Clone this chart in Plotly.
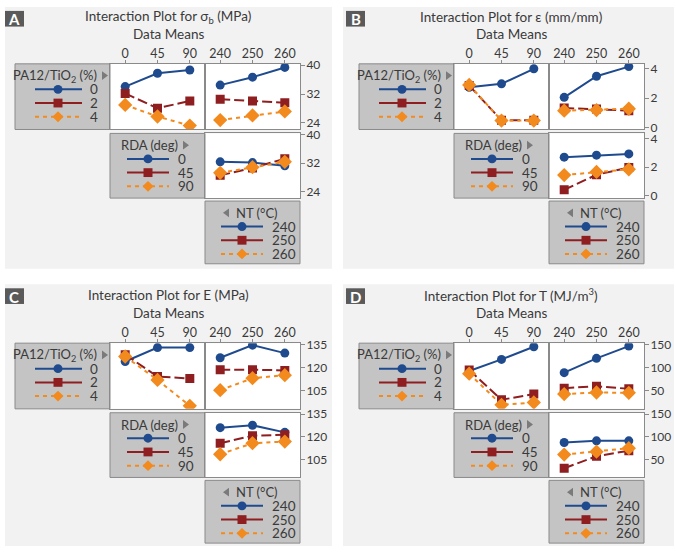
import plotly.graph_objects as go

W, H = 676, 554

# ---------------- data ----------------
rda_levels = ["0", "45", "90"]
nt_levels = ["240", "250", "260"]
pa_levels = ["0", "2", "4"]

# Panel A: sigma_b (MPa)
sigma_pa_rda_0 = [34.1, 37.8, 38.7]
sigma_pa_rda_2 = [32.2, 28.1, 30.1]
sigma_pa_rda_4 = [29.0, 25.8, 23.3]
sigma_pa_nt_0 = [34.5, 36.7, 39.4]
sigma_pa_nt_2 = [30.6, 30.1, 29.6]
sigma_pa_nt_4 = [24.8, 26.1, 27.2]
sigma_rda_nt_0 = [32.4, 32.2, 31.3]
sigma_rda_nt_45 = [28.6, 30.7, 33.3]
sigma_rda_nt_90 = [29.3, 30.9, 32.4]

# Panel B: epsilon (mm/mm)
eps_pa_rda_0 = [2.74, 2.97, 4.0]
eps_pa_rda_2 = [2.85, 0.48, 0.48]
eps_pa_rda_4 = [2.9, 0.46, 0.46]
eps_pa_nt_0 = [2.05, 3.49, 4.15]
eps_pa_nt_2 = [1.32, 1.25, 1.14]
eps_pa_nt_4 = [1.14, 1.18, 1.27]
eps_rda_nt_0 = [2.69, 2.83, 2.92]
eps_rda_nt_45 = [0.43, 1.47, 1.97]
eps_rda_nt_90 = [1.45, 1.67, 1.85]

# Panel C: E (MPa)
E_pa_rda_0 = [124.0, 133.1, 133.1]
E_pa_rda_2 = [128.5, 114.2, 112.9]
E_pa_rda_4 = [127.3, 112.0, 95.1]
E_pa_nt_0 = [126.5, 134.7, 129.5]
E_pa_nt_2 = [118.7, 118.7, 118.2]
E_pa_nt_4 = [105.3, 113.1, 115.1]
E_rda_nt_0 = [126.1, 127.7, 123.0]
E_rda_nt_45 = [115.8, 120.8, 121.4]
E_rda_nt_90 = [108.5, 115.8, 116.9]

# Panel D: T (MJ/m3)
T_pa_rda_0 = [92.9, 118.0, 145.4]
T_pa_rda_2 = [95.0, 30.3, 42.6]
T_pa_rda_4 = [87.0, 19.4, 24.4]
T_pa_nt_0 = [89.2, 120.3, 146.9]
T_pa_nt_2 = [55.5, 59.8, 54.0]
T_pa_nt_4 = [42.6, 46.1, 45.4]
T_rda_nt_0 = [87.6, 91.3, 91.3]
T_rda_nt_45 = [31.0, 57.2, 69.6]
T_rda_nt_90 = [61.0, 67.4, 75.2]

panel_letters = ["A", "B", "C", "D"]
panel_titles = [
    "Interaction Plot for σ<sub>b</sub> (MPa)",
    "Interaction Plot for ε (mm/mm)",
    "Interaction Plot for E (MPa)",
    "Interaction Plot for T (MJ/m<sup>3</sup>)",
]
y_tickvals = [[24, 32, 40], [0, 2, 4], [105, 120, 135], [50, 100, 150]]
y_ranges = [[22.2, 40.4], [-0.15, 4.34], [93.1, 136.0], [10.6, 153.2]]

# ---------------- style ----------------
FONT = "Lato, 'Open Sans', sans-serif"
TXT = "#3a3a3a"
COLORS = ["#1f4b8e", "#8e1e20", "#f28a1e"]
SYMBOLS = ["circle", "square", "diamond"]
SIZES = [9, 9, 11]
DASHES = ["solid", "10px,4px", "4px,4px"]
BORDER = "#8a8a8a"
GRAYBOX = "#c4c4c4"
PANELBG = "#f2f2f2"


def fx(p):
    return p / W


def fy(p):
    return 1 - p / H


fig = go.Figure()
layout_axes = {}
shapes = []
annotations = []


def rect(x0, y0, x1, y1, fill, line=None, layer="below"):
    d = dict(type="rect", xref="paper", yref="paper",
             x0=fx(x0), x1=fx(x1), y0=fy(y1), y1=fy(y0),
             fillcolor=fill, layer=layer)
    if line:
        d["line"] = dict(color=line, width=1)
    else:
        d["line"] = dict(width=0)
    return d


def text(x, y, s, size=13, xanchor="center", color=TXT, bold=False):
    annotations.append(dict(
        xref="paper", yref="paper", x=fx(x), y=fy(y), text=("<b>%s</b>" % s) if bold else s,
        showarrow=False, xanchor=xanchor, yanchor="middle",
        font=dict(family=FONT, size=size, color=color)))


def triangle(x0, y0, x1, y1, direction):
    if direction == "right":
        path = "M %f,%f L %f,%f L %f,%f Z" % (fx(x0), fy(y0), fx(x1), fy((y0 + y1) / 2), fx(x0), fy(y1))
    else:
        path = "M %f,%f L %f,%f L %f,%f Z" % (fx(x1), fy(y0), fx(x0), fy((y0 + y1) / 2), fx(x1), fy(y1))
    shapes.append(dict(type="path", xref="paper", yref="paper", path=path,
                       fillcolor="#7a7a7a", line=dict(width=0)))


def sample(xl0, xl1, xm, y, i):
    dash = "solid" if i < 2 else "4px,4px"
    shapes.append(dict(type="line", xref="paper", yref="paper",
                       x0=fx(xl0), x1=fx(xl1), y0=fy(y), y1=fy(y),
                       line=dict(color=COLORS[i], width=2, dash=dash)))
    r = SIZES[i] / 2
    if i == 0:
        shapes.append(dict(type="circle", xref="paper", yref="paper",
                           x0=fx(xm - r), x1=fx(xm + r), y0=fy(y + r), y1=fy(y - r),
                           fillcolor=COLORS[i], line=dict(width=0)))
    elif i == 1:
        shapes.append(dict(type="rect", xref="paper", yref="paper",
                           x0=fx(xm - r), x1=fx(xm + r), y0=fy(y + r), y1=fy(y - r),
                           fillcolor=COLORS[i], line=dict(width=0)))
    else:
        path = "M %f,%f L %f,%f L %f,%f L %f,%f Z" % (
            fx(xm - r), fy(y), fx(xm), fy(y - r), fx(xm + r), fy(y), fx(xm), fy(y + r))
        shapes.append(dict(type="path", xref="paper", yref="paper", path=path,
                           fillcolor=COLORS[i], line=dict(width=0)))


panels = [
    dict(bg=(5, 1, 332, 268), lab=(5, 5), gx=15, gy=59, cx=168, ty=11,
         data=[(sigma_pa_rda_0, sigma_pa_rda_2, sigma_pa_rda_4),
               (sigma_pa_nt_0, sigma_pa_nt_2, sigma_pa_nt_4),
               (sigma_rda_nt_0, sigma_rda_nt_45, sigma_rda_nt_90)]),
    dict(bg=(343, 1, 674, 268), lab=(346, 5), gx=359, gy=59, cx=511, ty=11,
         data=[(eps_pa_rda_0, eps_pa_rda_2, eps_pa_rda_4),
               (eps_pa_nt_0, eps_pa_nt_2, eps_pa_nt_4),
               (eps_rda_nt_0, eps_rda_nt_45, eps_rda_nt_90)]),
    dict(bg=(5, 284, 332, 551), lab=(5, 288), gx=15, gy=344, cx=168, ty=295,
         data=[(E_pa_rda_0, E_pa_rda_2, E_pa_rda_4),
               (E_pa_nt_0, E_pa_nt_2, E_pa_nt_4),
               (E_rda_nt_0, E_rda_nt_45, E_rda_nt_90)]),
    dict(bg=(343, 284, 674, 551), lab=(346, 288), gx=359, gy=344, cx=511, ty=295,
         data=[(T_pa_rda_0, T_pa_rda_2, T_pa_rda_4),
               (T_pa_nt_0, T_pa_nt_2, T_pa_nt_4),
               (T_rda_nt_0, T_rda_nt_45, T_rda_nt_90)]),
]

ax = 0
for pi, p in enumerate(panels):
    gx, gy = p["gx"], p["gy"]
    bx0, by0, bx1, by1 = p["bg"]
    shapes.append(rect(bx0, by0, bx1, by1, PANELBG))
    lx, ly = p["lab"]
    shapes.append(rect(lx, ly, lx + 19, ly + 16, "#5a5a5a", layer="above"))
    text(lx + 9.5, ly + 8.5, panel_letters[pi], size=15, color="white", bold=True)
    text(p["cx"], p["ty"], panel_titles[pi], size=13.5)
    text(p["cx"], p["ty"] + 18, "Data Means", size=13.5)

    boxes = [(gx + 95, gy, gx + 190, gy + 67, rda_levels, True, False),
             (gx + 190, gy, gx + 285, gy + 67, nt_levels, True, True),
             (gx + 190, gy + 71, gx + 285, gy + 137, nt_levels, False, True)]
    for k, (x0, y0, x1, y1, cats, showx, showy) in enumerate(boxes):
        shapes.append(rect(x0, y0, x1, y1, "white"))
        ax += 1
        xn = "xaxis" if ax == 1 else "xaxis%d" % ax
        yn = "yaxis" if ax == 1 else "yaxis%d" % ax
        xr = "x" if ax == 1 else "x%d" % ax
        yr = "y" if ax == 1 else "y%d" % ax
        layout_axes[xn] = dict(
            domain=[fx(x0), fx(x1)], anchor=yr, type="category",
            categoryorder="array", categoryarray=cats, range=[-0.47, 2.47],
            side="top", showticklabels=showx, ticks="outside" if showx else "",
            ticklen=3, tickcolor=BORDER, showgrid=False, zeroline=False,
            ticklabelstandoff=-3,
            showline=True, mirror=True, linecolor=BORDER, linewidth=1,
            tickfont=dict(family=FONT, size=12.5, color=TXT), fixedrange=True)
        layout_axes[yn] = dict(
            domain=[fy(y1), fy(y0)], anchor=xr, side="right",
            range=y_ranges[pi], tickvals=y_tickvals[pi],
            showticklabels=showy, ticks="outside" if showy else "",
            ticklen=4, tickcolor=BORDER, showgrid=False, zeroline=False,
            ticklabelstandoff=-1, ticklabeloverflow="allow",
            showline=True, mirror=True, linecolor=BORDER, linewidth=1,
            tickfont=dict(family=FONT, size=12, color=TXT), fixedrange=True)
        for i in range(3):
            fig.add_trace(go.Scatter(
                x=cats, y=p["data"][k][i], xaxis=xr, yaxis=yr,
                mode="lines+markers", showlegend=False, hoverinfo="skip",
                line=dict(color=COLORS[i], width=2, dash=DASHES[i]),
                marker=dict(symbol=SYMBOLS[i], size=SIZES[i], color=COLORS[i])))

    # legend boxes
    grays = [
        dict(box=(gx, gy, gx + 95, gy + 67), title="PA12/TiO<sub>2</sub> (%)", labels=pa_levels,
             tri="right", tri_x=(gx + 87, gx + 93), line=(gx + 20, gx + 67, gx + 43), tx=gx + 73),
        dict(box=(gx + 95, gy + 71, gx + 190, gy + 137), title="RDA (deg)", labels=rda_levels,
             tri="right", tri_x=(gx + 95 + 73, gx + 95 + 79), line=(gx + 95 + 17, gx + 95 + 59, gx + 95 + 38), tx=gx + 95 + 66),
        dict(box=(gx + 190, gy + 140, gx + 285, gy + 204), title="NT (°C)", labels=nt_levels,
             tri="left", tri_x=(gx + 190 + 18, gx + 190 + 24), line=(gx + 190 + 16, gx + 190 + 58, gx + 190 + 37), tx=gx + 190 + 65),
    ]
    for g in grays:
        x0, y0, x1, y1 = g["box"]
        shapes.append(rect(x0, y0, x1, y1, GRAYBOX, line=BORDER))
        ttop = y0 + 12
        triangle(g["tri_x"][0], ttop - 4.5, g["tri_x"][1], ttop + 4.5, g["tri"])
        if g["tri"] == "right":
            text(g["tri_x"][0] - 3, ttop, g["title"], size=13, xanchor="right")
        else:
            text(g["tri_x"][1] + 5, ttop, g["title"], size=13, xanchor="left")
        for i in range(3):
            yy = y0 + 26 + 14 * i
            sample(g["line"][0], g["line"][1], g["line"][2], yy, i)
            text(g["tx"], yy, g["labels"][i], size=13.5, xanchor="left")

fig.update_layout(
    width=W, height=H, margin=dict(l=0, r=0, t=0, b=0),
    paper_bgcolor="white", plot_bgcolor="rgba(0,0,0,0)",
    showlegend=False, shapes=shapes, annotations=annotations,
    font=dict(family=FONT, size=13, color=TXT),
    **layout_axes)

POST = ("document.body.style.margin='0';document.body.style.padding='0';"
        "var gd=document.getElementsByClassName('plotly-graph-div')[0];"
        "gd.style.position='fixed';gd.style.top='0px';gd.style.left='0px';")

fig.write_html("out.html", config={"displayModeBar": False}, post_script=POST)
